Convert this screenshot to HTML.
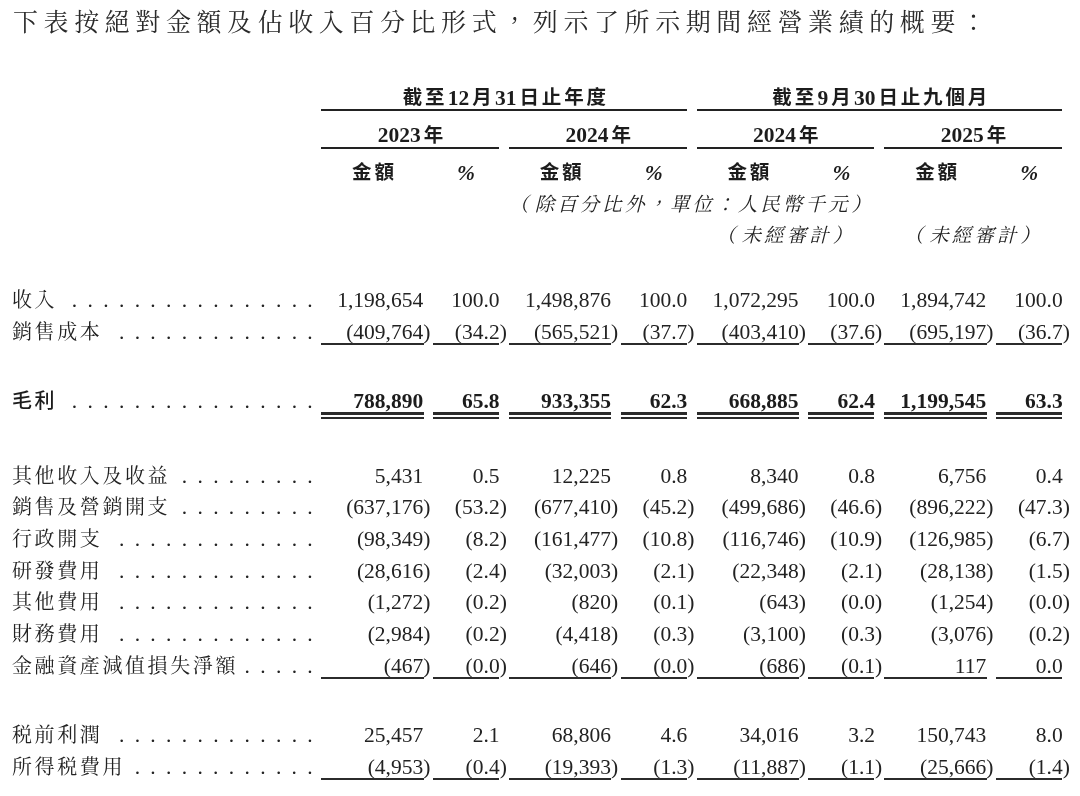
<!DOCTYPE html>
<html lang="zh-Hant">
<head>
<meta charset="utf-8">
<title>經營業績概要</title>
<style>
html,body{margin:0;padding:0;background:#fff;}
body{width:1080px;height:796px;position:relative;overflow:hidden;color:#222;
  font-family:"Liberation Serif","Noto Serif CJK SC",serif;font-size:21.5px;}
.t{position:absolute;white-space:nowrap;line-height:32px;height:32px;}
.title{left:13px;top:7px;font-size:25px;letter-spacing:5.58px;color:#2a2a2a;}
.lab{left:12px;font-size:20px;letter-spacing:2.6px;}
.b{font-weight:bold;color:#1c1c1c;}
.hb{font-family:"Liberation Serif","Noto Sans CJK SC",sans-serif;font-weight:bold;color:#1c1c1c;font-size:19.5px;letter-spacing:2.8px;}
.hb b{font-size:21.5px;letter-spacing:0;margin:0 3px 0 0.5px;}
.hb i{font-size:21.5px;letter-spacing:0;}
.h1{margin-top:-1px;}
.h1 b{position:relative;top:1px;}
.lab.b{font-family:"Liberation Serif","Noto Sans CJK SC",sans-serif;font-weight:500;}
.dots{letter-spacing:2.475px;text-align:right;}
.n{text-align:right;}
.c{text-align:center;}
.i{font-style:italic;font-size:19.5px;letter-spacing:3.06px;}
.i .po{margin:0 3px 0 -4px;}
.i .pc{margin:0 -1px 0 1px;}
.ln{position:absolute;background:#222;height:2px;}
.ul{position:absolute;background:#2b2b2b;height:2px;}
</style>
</head>
<body>

<div class="t title">下表按絕對金額及佔收入百分比形式，列示了所示期間經營業績的概要：</div>
<div class="t c hb h1" style="left:305.7px;width:400px;top:81.9px;">截至<b>12</b>月<b>31</b>日止年度</div>
<div class="t c hb h1" style="left:681.2px;width:400px;top:81.9px;">截至<b>9</b>月<b>30</b>日止九個月</div>
<div class="ln" style="left:321.2px;width:365.5px;top:109px"></div>
<div class="ln" style="left:696.6px;width:365.5px;top:109px"></div>
<div class="t c hb" style="left:326.6px;width:170px;top:119.2px;"><b>2023</b>年</div>
<div class="ln" style="left:321.2px;width:177.8px;top:147px"></div>
<div class="t c hb" style="left:324.4px;width:100px;top:156.9px;">金額</div>
<div class="t c hb" style="left:436.0px;width:60px;top:156.9px;"><i>%</i></div>
<div class="t c hb" style="left:514.3px;width:170px;top:119.2px;"><b>2024</b>年</div>
<div class="ln" style="left:508.9px;width:177.8px;top:147px"></div>
<div class="t c hb" style="left:512.1px;width:100px;top:156.9px;">金額</div>
<div class="t c hb" style="left:623.7px;width:60px;top:156.9px;"><i>%</i></div>
<div class="t c hb" style="left:702.0px;width:170px;top:119.2px;"><b>2024</b>年</div>
<div class="ln" style="left:696.6px;width:177.8px;top:147px"></div>
<div class="t c hb" style="left:699.8px;width:100px;top:156.9px;">金額</div>
<div class="t c hb" style="left:811.4px;width:60px;top:156.9px;"><i>%</i></div>
<div class="t c hb" style="left:889.7px;width:170px;top:119.2px;"><b>2025</b>年</div>
<div class="ln" style="left:884.3px;width:177.8px;top:147px"></div>
<div class="t c hb" style="left:887.5px;width:100px;top:156.9px;">金額</div>
<div class="t c hb" style="left:999.1px;width:60px;top:156.9px;"><i>%</i></div>
<div class="t c i" style="left:463.1px;width:460px;top:188.7px;"><span class="po">（</span>除百分比外，單位：人民幣千元<span class="pc">）</span></div>
<div class="t c i" style="left:687.2px;width:200px;top:220.2px;"><span class="po">（</span>未經審計<span class="pc">）</span></div>
<div class="t c i" style="left:874.9px;width:200px;top:220.2px;"><span class="po">（</span>未經審計<span class="pc">）</span></div>
<div class="t lab" style="top:283.6px">收入</div>
<div class="t dots" style="left:60px;width:255.2px;top:284.0px">. . . . . . . . . . . . . . . .</div>
<div class="t n" style="left:303.2px;width:120px;top:284.0px">1,198,654</div>
<div class="t n" style="left:379.6px;width:120px;top:284.0px">100.0</div>
<div class="t n" style="left:490.9px;width:120px;top:284.0px">1,498,876</div>
<div class="t n" style="left:567.3px;width:120px;top:284.0px">100.0</div>
<div class="t n" style="left:678.6px;width:120px;top:284.0px">1,072,295</div>
<div class="t n" style="left:755.0px;width:120px;top:284.0px">100.0</div>
<div class="t n" style="left:866.3px;width:120px;top:284.0px">1,894,742</div>
<div class="t n" style="left:942.7px;width:120px;top:284.0px">100.0</div>
<div class="t lab" style="top:315.6px">銷售成本</div>
<div class="t dots" style="left:60px;width:255.2px;top:316.0px">. . . . . . . . . . . . .</div>
<div class="t n" style="left:310.4px;width:120px;top:316.0px">(409,764)</div>
<div class="ul" style="left:321.2px;width:102.4px;top:343px"></div>
<div class="t n" style="left:386.8px;width:120px;top:316.0px">(34.2)</div>
<div class="ul" style="left:433.0px;width:66.0px;top:343px"></div>
<div class="t n" style="left:498.1px;width:120px;top:316.0px">(565,521)</div>
<div class="ul" style="left:508.9px;width:102.4px;top:343px"></div>
<div class="t n" style="left:574.5px;width:120px;top:316.0px">(37.7)</div>
<div class="ul" style="left:620.7px;width:66.0px;top:343px"></div>
<div class="t n" style="left:685.8px;width:120px;top:316.0px">(403,410)</div>
<div class="ul" style="left:696.6px;width:102.4px;top:343px"></div>
<div class="t n" style="left:762.2px;width:120px;top:316.0px">(37.6)</div>
<div class="ul" style="left:808.4px;width:66.0px;top:343px"></div>
<div class="t n" style="left:873.5px;width:120px;top:316.0px">(695,197)</div>
<div class="ul" style="left:884.3px;width:102.4px;top:343px"></div>
<div class="t n" style="left:949.9px;width:120px;top:316.0px">(36.7)</div>
<div class="ul" style="left:996.1px;width:66.0px;top:343px"></div>
<div class="t lab b" style="top:384.6px">毛利</div>
<div class="t dots" style="left:60px;width:255.2px;top:385.0px">. . . . . . . . . . . . . . . .</div>
<div class="t n b" style="left:303.2px;width:120px;top:385.0px">788,890</div>
<div class="ul" style="left:321.2px;width:102.4px;top:412px;height:3px"></div>
<div class="ul" style="left:321.2px;width:102.4px;top:417px;height:2px"></div>
<div class="t n b" style="left:379.6px;width:120px;top:385.0px">65.8</div>
<div class="ul" style="left:433.0px;width:66.0px;top:412px;height:3px"></div>
<div class="ul" style="left:433.0px;width:66.0px;top:417px;height:2px"></div>
<div class="t n b" style="left:490.9px;width:120px;top:385.0px">933,355</div>
<div class="ul" style="left:508.9px;width:102.4px;top:412px;height:3px"></div>
<div class="ul" style="left:508.9px;width:102.4px;top:417px;height:2px"></div>
<div class="t n b" style="left:567.3px;width:120px;top:385.0px">62.3</div>
<div class="ul" style="left:620.7px;width:66.0px;top:412px;height:3px"></div>
<div class="ul" style="left:620.7px;width:66.0px;top:417px;height:2px"></div>
<div class="t n b" style="left:678.6px;width:120px;top:385.0px">668,885</div>
<div class="ul" style="left:696.6px;width:102.4px;top:412px;height:3px"></div>
<div class="ul" style="left:696.6px;width:102.4px;top:417px;height:2px"></div>
<div class="t n b" style="left:755.0px;width:120px;top:385.0px">62.4</div>
<div class="ul" style="left:808.4px;width:66.0px;top:412px;height:3px"></div>
<div class="ul" style="left:808.4px;width:66.0px;top:417px;height:2px"></div>
<div class="t n b" style="left:866.3px;width:120px;top:385.0px">1,199,545</div>
<div class="ul" style="left:884.3px;width:102.4px;top:412px;height:3px"></div>
<div class="ul" style="left:884.3px;width:102.4px;top:417px;height:2px"></div>
<div class="t n b" style="left:942.7px;width:120px;top:385.0px">63.3</div>
<div class="ul" style="left:996.1px;width:66.0px;top:412px;height:3px"></div>
<div class="ul" style="left:996.1px;width:66.0px;top:417px;height:2px"></div>
<div class="t lab" style="top:459.6px">其他收入及收益</div>
<div class="t dots" style="left:60px;width:255.2px;top:460.0px">. . . . . . . . .</div>
<div class="t n" style="left:303.2px;width:120px;top:460.0px">5,431</div>
<div class="t n" style="left:379.6px;width:120px;top:460.0px">0.5</div>
<div class="t n" style="left:490.9px;width:120px;top:460.0px">12,225</div>
<div class="t n" style="left:567.3px;width:120px;top:460.0px">0.8</div>
<div class="t n" style="left:678.6px;width:120px;top:460.0px">8,340</div>
<div class="t n" style="left:755.0px;width:120px;top:460.0px">0.8</div>
<div class="t n" style="left:866.3px;width:120px;top:460.0px">6,756</div>
<div class="t n" style="left:942.7px;width:120px;top:460.0px">0.4</div>
<div class="t lab" style="top:490.5px">銷售及營銷開支</div>
<div class="t dots" style="left:60px;width:255.2px;top:491.0px">. . . . . . . . .</div>
<div class="t n" style="left:310.4px;width:120px;top:491.0px">(637,176)</div>
<div class="t n" style="left:386.8px;width:120px;top:491.0px">(53.2)</div>
<div class="t n" style="left:498.1px;width:120px;top:491.0px">(677,410)</div>
<div class="t n" style="left:574.5px;width:120px;top:491.0px">(45.2)</div>
<div class="t n" style="left:685.8px;width:120px;top:491.0px">(499,686)</div>
<div class="t n" style="left:762.2px;width:120px;top:491.0px">(46.6)</div>
<div class="t n" style="left:873.5px;width:120px;top:491.0px">(896,222)</div>
<div class="t n" style="left:949.9px;width:120px;top:491.0px">(47.3)</div>
<div class="t lab" style="top:522.5px">行政開支</div>
<div class="t dots" style="left:60px;width:255.2px;top:523.0px">. . . . . . . . . . . . .</div>
<div class="t n" style="left:310.4px;width:120px;top:523.0px">(98,349)</div>
<div class="t n" style="left:386.8px;width:120px;top:523.0px">(8.2)</div>
<div class="t n" style="left:498.1px;width:120px;top:523.0px">(161,477)</div>
<div class="t n" style="left:574.5px;width:120px;top:523.0px">(10.8)</div>
<div class="t n" style="left:685.8px;width:120px;top:523.0px">(116,746)</div>
<div class="t n" style="left:762.2px;width:120px;top:523.0px">(10.9)</div>
<div class="t n" style="left:873.5px;width:120px;top:523.0px">(126,985)</div>
<div class="t n" style="left:949.9px;width:120px;top:523.0px">(6.7)</div>
<div class="t lab" style="top:554.5px">研發費用</div>
<div class="t dots" style="left:60px;width:255.2px;top:555.0px">. . . . . . . . . . . . .</div>
<div class="t n" style="left:310.4px;width:120px;top:555.0px">(28,616)</div>
<div class="t n" style="left:386.8px;width:120px;top:555.0px">(2.4)</div>
<div class="t n" style="left:498.1px;width:120px;top:555.0px">(32,003)</div>
<div class="t n" style="left:574.5px;width:120px;top:555.0px">(2.1)</div>
<div class="t n" style="left:685.8px;width:120px;top:555.0px">(22,348)</div>
<div class="t n" style="left:762.2px;width:120px;top:555.0px">(2.1)</div>
<div class="t n" style="left:873.5px;width:120px;top:555.0px">(28,138)</div>
<div class="t n" style="left:949.9px;width:120px;top:555.0px">(1.5)</div>
<div class="t lab" style="top:585.5px">其他費用</div>
<div class="t dots" style="left:60px;width:255.2px;top:586.0px">. . . . . . . . . . . . .</div>
<div class="t n" style="left:310.4px;width:120px;top:586.0px">(1,272)</div>
<div class="t n" style="left:386.8px;width:120px;top:586.0px">(0.2)</div>
<div class="t n" style="left:498.1px;width:120px;top:586.0px">(820)</div>
<div class="t n" style="left:574.5px;width:120px;top:586.0px">(0.1)</div>
<div class="t n" style="left:685.8px;width:120px;top:586.0px">(643)</div>
<div class="t n" style="left:762.2px;width:120px;top:586.0px">(0.0)</div>
<div class="t n" style="left:873.5px;width:120px;top:586.0px">(1,254)</div>
<div class="t n" style="left:949.9px;width:120px;top:586.0px">(0.0)</div>
<div class="t lab" style="top:617.5px">財務費用</div>
<div class="t dots" style="left:60px;width:255.2px;top:618.0px">. . . . . . . . . . . . .</div>
<div class="t n" style="left:310.4px;width:120px;top:618.0px">(2,984)</div>
<div class="t n" style="left:386.8px;width:120px;top:618.0px">(0.2)</div>
<div class="t n" style="left:498.1px;width:120px;top:618.0px">(4,418)</div>
<div class="t n" style="left:574.5px;width:120px;top:618.0px">(0.3)</div>
<div class="t n" style="left:685.8px;width:120px;top:618.0px">(3,100)</div>
<div class="t n" style="left:762.2px;width:120px;top:618.0px">(0.3)</div>
<div class="t n" style="left:873.5px;width:120px;top:618.0px">(3,076)</div>
<div class="t n" style="left:949.9px;width:120px;top:618.0px">(0.2)</div>
<div class="t lab" style="top:649.5px">金融資產減值損失淨額</div>
<div class="t dots" style="left:60px;width:255.2px;top:650.0px">. . . . .</div>
<div class="t n" style="left:310.4px;width:120px;top:650.0px">(467)</div>
<div class="ul" style="left:321.2px;width:102.4px;top:677px"></div>
<div class="t n" style="left:386.8px;width:120px;top:650.0px">(0.0)</div>
<div class="ul" style="left:433.0px;width:66.0px;top:677px"></div>
<div class="t n" style="left:498.1px;width:120px;top:650.0px">(646)</div>
<div class="ul" style="left:508.9px;width:102.4px;top:677px"></div>
<div class="t n" style="left:574.5px;width:120px;top:650.0px">(0.0)</div>
<div class="ul" style="left:620.7px;width:66.0px;top:677px"></div>
<div class="t n" style="left:685.8px;width:120px;top:650.0px">(686)</div>
<div class="ul" style="left:696.6px;width:102.4px;top:677px"></div>
<div class="t n" style="left:762.2px;width:120px;top:650.0px">(0.1)</div>
<div class="ul" style="left:808.4px;width:66.0px;top:677px"></div>
<div class="t n" style="left:866.3px;width:120px;top:650.0px">117</div>
<div class="ul" style="left:884.3px;width:102.4px;top:677px"></div>
<div class="t n" style="left:942.7px;width:120px;top:650.0px">0.0</div>
<div class="ul" style="left:996.1px;width:66.0px;top:677px"></div>
<div class="t lab" style="top:718.5px">税前利潤</div>
<div class="t dots" style="left:60px;width:255.2px;top:719.0px">. . . . . . . . . . . . .</div>
<div class="t n" style="left:303.2px;width:120px;top:719.0px">25,457</div>
<div class="t n" style="left:379.6px;width:120px;top:719.0px">2.1</div>
<div class="t n" style="left:490.9px;width:120px;top:719.0px">68,806</div>
<div class="t n" style="left:567.3px;width:120px;top:719.0px">4.6</div>
<div class="t n" style="left:678.6px;width:120px;top:719.0px">34,016</div>
<div class="t n" style="left:755.0px;width:120px;top:719.0px">3.2</div>
<div class="t n" style="left:866.3px;width:120px;top:719.0px">150,743</div>
<div class="t n" style="left:942.7px;width:120px;top:719.0px">8.0</div>
<div class="t lab" style="top:750.5px">所得税費用</div>
<div class="t dots" style="left:60px;width:255.2px;top:751.0px">. . . . . . . . . . . .</div>
<div class="t n" style="left:310.4px;width:120px;top:751.0px">(4,953)</div>
<div class="ul" style="left:321.2px;width:102.4px;top:778px"></div>
<div class="t n" style="left:386.8px;width:120px;top:751.0px">(0.4)</div>
<div class="ul" style="left:433.0px;width:66.0px;top:778px"></div>
<div class="t n" style="left:498.1px;width:120px;top:751.0px">(19,393)</div>
<div class="ul" style="left:508.9px;width:102.4px;top:778px"></div>
<div class="t n" style="left:574.5px;width:120px;top:751.0px">(1.3)</div>
<div class="ul" style="left:620.7px;width:66.0px;top:778px"></div>
<div class="t n" style="left:685.8px;width:120px;top:751.0px">(11,887)</div>
<div class="ul" style="left:696.6px;width:102.4px;top:778px"></div>
<div class="t n" style="left:762.2px;width:120px;top:751.0px">(1.1)</div>
<div class="ul" style="left:808.4px;width:66.0px;top:778px"></div>
<div class="t n" style="left:873.5px;width:120px;top:751.0px">(25,666)</div>
<div class="ul" style="left:884.3px;width:102.4px;top:778px"></div>
<div class="t n" style="left:949.9px;width:120px;top:751.0px">(1.4)</div>
<div class="ul" style="left:996.1px;width:66.0px;top:778px"></div>
</body>
</html>
